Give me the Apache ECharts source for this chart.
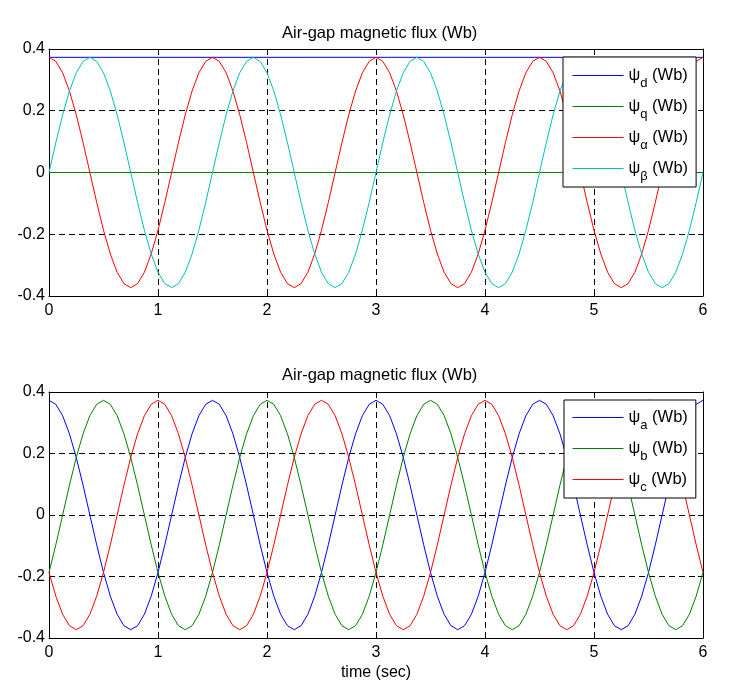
<!DOCTYPE html>
<html>
<head>
<meta charset="utf-8">
<script src="https://cdn.jsdelivr.net/npm/echarts@6/dist/echarts.min.js"></script>
<style>
html,body{margin:0;padding:0;background:#fff;}
#chart{width:740px;height:699px;}
</style>
</head>
<body>
<div id="chart"></div>
<script>
// ---- data ----
const titleText = 'Air-gap magnetic flux (Wb)';
const xTicks = [0, 1, 2, 3, 4, 5, 6];
const yTicks = [-0.4, -0.2, 0, 0.2, 0.4];

const time = [
  0, 0.0625, 0.125, 0.1875, 0.25, 0.3125, 0.375, 0.4375,
  0.5, 0.5625, 0.625, 0.6875, 0.75, 0.8125, 0.875, 0.9375,
  1, 1.0625, 1.125, 1.1875, 1.25, 1.3125, 1.375, 1.4375,
  1.5, 1.5625, 1.625, 1.6875, 1.75, 1.8125, 1.875, 1.9375,
  2, 2.0625, 2.125, 2.1875, 2.25, 2.3125, 2.375, 2.4375,
  2.5, 2.5625, 2.625, 2.6875, 2.75, 2.8125, 2.875, 2.9375,
  3, 3.0625, 3.125, 3.1875, 3.25, 3.3125, 3.375, 3.4375,
  3.5, 3.5625, 3.625, 3.6875, 3.75, 3.8125, 3.875, 3.9375,
  4, 4.0625, 4.125, 4.1875, 4.25, 4.3125, 4.375, 4.4375,
  4.5, 4.5625, 4.625, 4.6875, 4.75, 4.8125, 4.875, 4.9375,
  5, 5.0625, 5.125, 5.1875, 5.25, 5.3125, 5.375, 5.4375,
  5.5, 5.5625, 5.625, 5.6875, 5.75, 5.8125, 5.875, 5.9375,
  6
];

// top panel
const timeDQ = [0, 6];
const psiD = [0.373, 0.373];
const psiQ = [0, 0];
const psiAlpha = [
  0.373, 0.360, 0.323, 0.264, 0.187, 0.097, 0, -0.097, -0.187, -0.264, -0.323, -0.360, -0.373, -0.360, -0.323, -0.264, -0.187, -0.097, 0, 0.097, 0.187, 0.264, 0.323, 0.360,
  0.373, 0.360, 0.323, 0.264, 0.187, 0.097, 0, -0.097, -0.187, -0.264, -0.323, -0.360, -0.373, -0.360, -0.323, -0.264, -0.187, -0.097, 0, 0.097, 0.187, 0.264, 0.323, 0.360,
  0.373, 0.360, 0.323, 0.264, 0.187, 0.097, 0, -0.097, -0.187, -0.264, -0.323, -0.360, -0.373, -0.360, -0.323, -0.264, -0.187, -0.097, 0, 0.097, 0.187, 0.264, 0.323, 0.360,
  0.373, 0.360, 0.323, 0.264, 0.187, 0.097, 0, -0.097, -0.187, -0.264, -0.323, -0.360, -0.373, -0.360, -0.323, -0.264, -0.187, -0.097, 0, 0.097, 0.187, 0.264, 0.323, 0.360,
  0.373
];
const psiBeta = [
  0, 0.097, 0.187, 0.264, 0.323, 0.360, 0.373, 0.360, 0.323, 0.264, 0.187, 0.097, 0, -0.097, -0.187, -0.264, -0.323, -0.360, -0.373, -0.360, -0.323, -0.264, -0.187, -0.097,
  0, 0.097, 0.187, 0.264, 0.323, 0.360, 0.373, 0.360, 0.323, 0.264, 0.187, 0.097, 0, -0.097, -0.187, -0.264, -0.323, -0.360, -0.373, -0.360, -0.323, -0.264, -0.187, -0.097,
  0, 0.097, 0.187, 0.264, 0.323, 0.360, 0.373, 0.360, 0.323, 0.264, 0.187, 0.097, 0, -0.097, -0.187, -0.264, -0.323, -0.360, -0.373, -0.360, -0.323, -0.264, -0.187, -0.097,
  0, 0.097, 0.187, 0.264, 0.323, 0.360, 0.373, 0.360, 0.323, 0.264, 0.187, 0.097, 0, -0.097, -0.187, -0.264, -0.323, -0.360, -0.373, -0.360, -0.323, -0.264, -0.187, -0.097,
  0
];

// bottom panel
const psiA = [
  0.373, 0.360, 0.323, 0.264, 0.187, 0.097, 0, -0.097, -0.187, -0.264, -0.323, -0.360, -0.373, -0.360, -0.323, -0.264, -0.187, -0.097, 0, 0.097, 0.187, 0.264, 0.323, 0.360,
  0.373, 0.360, 0.323, 0.264, 0.187, 0.097, 0, -0.097, -0.187, -0.264, -0.323, -0.360, -0.373, -0.360, -0.323, -0.264, -0.187, -0.097, 0, 0.097, 0.187, 0.264, 0.323, 0.360,
  0.373, 0.360, 0.323, 0.264, 0.187, 0.097, 0, -0.097, -0.187, -0.264, -0.323, -0.360, -0.373, -0.360, -0.323, -0.264, -0.187, -0.097, 0, 0.097, 0.187, 0.264, 0.323, 0.360,
  0.373, 0.360, 0.323, 0.264, 0.187, 0.097, 0, -0.097, -0.187, -0.264, -0.323, -0.360, -0.373, -0.360, -0.323, -0.264, -0.187, -0.097, 0, 0.097, 0.187, 0.264, 0.323, 0.360,
  0.373
];
const psiB = [
  -0.187, -0.097, 0, 0.097, 0.187, 0.264, 0.323, 0.360, 0.373, 0.360, 0.323, 0.264, 0.187, 0.097, 0, -0.097, -0.187, -0.264, -0.323, -0.360, -0.373, -0.360, -0.323, -0.264,
  -0.187, -0.097, 0, 0.097, 0.187, 0.264, 0.323, 0.360, 0.373, 0.360, 0.323, 0.264, 0.187, 0.097, 0, -0.097, -0.187, -0.264, -0.323, -0.360, -0.373, -0.360, -0.323, -0.264,
  -0.187, -0.097, 0, 0.097, 0.187, 0.264, 0.323, 0.360, 0.373, 0.360, 0.323, 0.264, 0.187, 0.097, 0, -0.097, -0.187, -0.264, -0.323, -0.360, -0.373, -0.360, -0.323, -0.264,
  -0.187, -0.097, 0, 0.097, 0.187, 0.264, 0.323, 0.360, 0.373, 0.360, 0.323, 0.264, 0.187, 0.097, 0, -0.097, -0.187, -0.264, -0.323, -0.360, -0.373, -0.360, -0.323, -0.264,
  -0.187
];
const psiC = [
  -0.187, -0.264, -0.323, -0.360, -0.373, -0.360, -0.323, -0.264, -0.187, -0.097, 0, 0.097, 0.187, 0.264, 0.323, 0.360, 0.373, 0.360, 0.323, 0.264, 0.187, 0.097, 0, -0.097,
  -0.187, -0.264, -0.323, -0.360, -0.373, -0.360, -0.323, -0.264, -0.187, -0.097, 0, 0.097, 0.187, 0.264, 0.323, 0.360, 0.373, 0.360, 0.323, 0.264, 0.187, 0.097, 0, -0.097,
  -0.187, -0.264, -0.323, -0.360, -0.373, -0.360, -0.323, -0.264, -0.187, -0.097, 0, 0.097, 0.187, 0.264, 0.323, 0.360, 0.373, 0.360, 0.323, 0.264, 0.187, 0.097, 0, -0.097,
  -0.187, -0.264, -0.323, -0.360, -0.373, -0.360, -0.323, -0.264, -0.187, -0.097, 0, 0.097, 0.187, 0.264, 0.323, 0.360, 0.373, 0.360, 0.323, 0.264, 0.187, 0.097, 0, -0.097,
  -0.187
];

const topNames = ['psi_d', 'psi_q', 'psi_alpha', 'psi_beta'];
const topSubs = ['d', 'q', 'α', 'β'];
const bottomNames = ['psi_a', 'psi_b', 'psi_c'];
const bottomSubs = ['a', 'b', 'c'];

// ---- styling ----
const FONT = '"Liberation Sans", Arial, sans-serif';
const colors = {
  psi_d: '#0000ff', psi_q: '#008000', psi_alpha: '#ff0000', psi_beta: '#00bfbf',
  psi_a: '#0000ff', psi_b: '#008000', psi_c: '#ff0000'
};
const subMap = {};
topNames.forEach((n, i) => subMap[n] = topSubs[i]);
bottomNames.forEach((n, i) => subMap[n] = bottomSubs[i]);

const pairs = (xs, ys) => xs.map((x, i) => [x, ys[i]]);

const gridDefs = [
  { left: 49, top: 49, width: 654, height: 247 },
  { left: 49, top: 392, width: 654, height: 246 }
];

function mkX(gridIndex, pos, main) {
  return {
    type: 'value', gridIndex, position: pos,
    min: xTicks[0], max: xTicks[xTicks.length - 1], interval: 1,
    axisLine: { show: true, onZero: false, lineStyle: { color: '#000', width: 1 } },
    axisTick: { show: true, inside: true, length: 5, lineStyle: { color: '#000' } },
    axisLabel: { show: main, color: '#000', fontFamily: FONT, fontSize: 16, margin: 7 },
    splitLine: { show: main, lineStyle: { color: '#000', type: [6, 4], width: 1 } },
    name: (main && gridIndex === 1) ? 'time (sec)' : '',
    nameLocation: 'middle', nameGap: 27,
    nameTextStyle: { color: '#000', fontFamily: FONT, fontSize: 16 }
  };
}
function mkY(gridIndex, pos, main) {
  return {
    type: 'value', gridIndex, position: pos,
    min: yTicks[0], max: yTicks[yTicks.length - 1], interval: 0.2,
    axisLine: { show: true, onZero: false, lineStyle: { color: '#000', width: 1 } },
    axisTick: { show: true, inside: true, length: 5, lineStyle: { color: '#000' } },
    axisLabel: { show: main, color: '#000', fontFamily: FONT, fontSize: 16, margin: 4 },
    splitLine: { show: main, lineStyle: { color: '#000', type: [6, 4], width: 1 } }
  };
}

function mkSeries(name, xs, ys, axisIdx) {
  return {
    name, type: 'line', xAxisIndex: axisIdx, yAxisIndex: axisIdx,
    data: pairs(xs, ys), symbol: 'none', smooth: false,
    lineStyle: { color: colors[name], width: 1 },
    itemStyle: { color: colors[name] },
    emphasis: { disabled: true }
  };
}

const rich = {
  g: { fontFamily: FONT, fontSize: 16.5, color: '#000', lineHeight: 18, verticalAlign: 'middle' },
  s: { fontFamily: FONT, fontSize: 13, color: '#000', lineHeight: 13, padding: [16, 0, 0, 0], verticalAlign: 'middle' }
};
function mkLegend(names, left, top, pad) {
  return {
    orient: 'vertical', left, top,
    data: names.map(n => ({
      name: n,
      itemStyle: { opacity: 0 },
      lineStyle: { color: colors[n], width: 1, opacity: 1 }
    })),
    backgroundColor: '#fff', borderColor: '#000', borderWidth: 1, borderRadius: 0,
    padding: pad,
    itemWidth: 51, itemHeight: 29, itemGap: 2,
    selectedMode: false,
    formatter: n => '{g|ψ}{s|' + subMap[n] + '}{g| (Wb)}',
    textStyle: { rich }
  };
}

const chart = echarts.init(document.getElementById('chart'), null, { renderer: 'canvas' });
chart.setOption({
  animation: false,
  backgroundColor: '#fff',
  title: [
    { text: titleText, left: 282, top: 25, padding: 0,
      textStyle: { fontFamily: FONT, fontSize: 16.5, fontWeight: 'normal', color: '#000' } },
    { text: titleText, left: 282, top: 367, padding: 0,
      textStyle: { fontFamily: FONT, fontSize: 16.5, fontWeight: 'normal', color: '#000' } }
  ],
  grid: gridDefs,
  xAxis: [mkX(0, 'bottom', true), mkX(0, 'top', false), mkX(1, 'bottom', true), mkX(1, 'top', false)],
  yAxis: [mkY(0, 'left', true), mkY(0, 'right', false), mkY(1, 'left', true), mkY(1, 'right', false)],
  legend: [mkLegend(topNames, 563, 57, [4, 8, 4, 9]), mkLegend(bottomNames, 564, 400, [3, 8, 4, 8])],
  series: [
    mkSeries('psi_d', timeDQ, psiD, 0),
    mkSeries('psi_q', timeDQ, psiQ, 0),
    mkSeries('psi_alpha', time, psiAlpha, 0),
    mkSeries('psi_beta', time, psiBeta, 0),
    mkSeries('psi_a', time, psiA, 2),
    mkSeries('psi_b', time, psiB, 2),
    mkSeries('psi_c', time, psiC, 2)
  ]
});
</script>
</body>
</html>
